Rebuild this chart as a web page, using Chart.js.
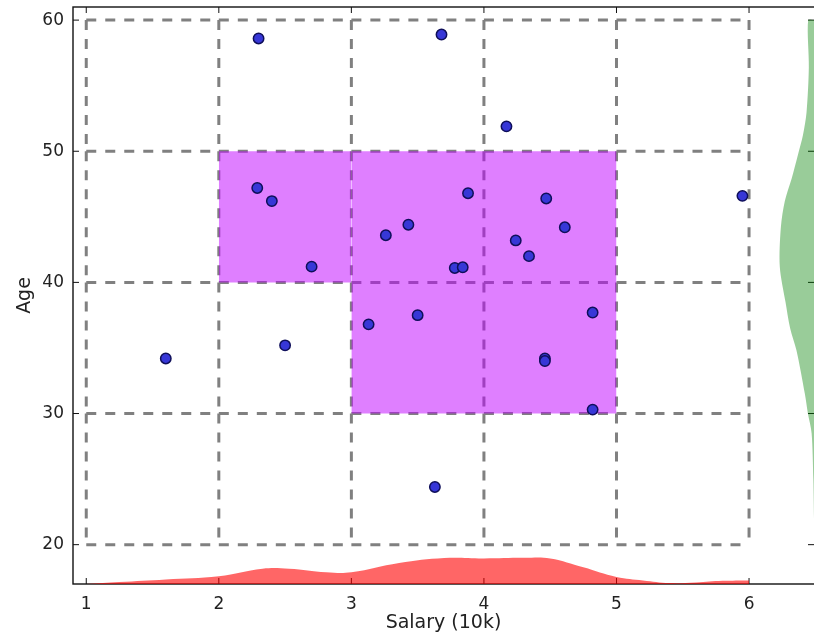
<!DOCTYPE html>
<html lang="en">
<head>
  <meta charset="UTF-8">
  <title>Salary vs Age</title>
  <script src="https://cdn.jsdelivr.net/npm/chart.js@4.4.1/dist/chart.umd.min.js"></script>
  <style>
    body { margin: 0; background: #fff; }
  </style>
</head>
<body>
  <canvas id="myChart" width="814" height="638"></canvas>
  <script>
    // people: salary (10k) and age
    var salary = [2.30, 3.68, 4.17, 2.29, 2.40, 2.70, 3.26, 3.43, 3.88, 3.78, 3.84, 4.47, 4.61,
                  4.24, 4.34, 3.13, 3.50, 4.82, 4.46, 4.46, 4.82, 1.60, 2.50, 3.63, 5.95];
    var age = [58.6, 58.9, 51.9, 47.2, 46.2, 41.2, 43.6, 44.4, 46.8, 41.1, 41.15, 46.4, 44.2,
               43.2, 42.0, 36.8, 37.5, 37.7, 34.2, 34.0, 30.3, 34.2, 35.2, 24.4, 46.6];

    var xTicks = [1, 2, 3, 4, 5, 6];
    var yTicks = [20, 30, 40, 50, 60];

    // highlighted cells: [x0, x1, y0, y1]
    var boxes = [[2, 3, 40, 50], [3, 5, 30, 50]];

    // salary density along the bottom
    var redX = [1.0, 1.25, 1.6, 2.0, 2.33, 2.53, 2.81, 3.0, 3.36, 3.7, 4.0, 4.3, 4.5, 4.75, 5.0, 5.2, 5.4, 5.6, 5.8, 6.0];
    var redY = [17.0, 17.15, 17.35, 17.6, 18.17, 18.17, 17.9, 17.9, 18.6, 18.98, 18.95, 19.0, 18.95, 18.27, 17.53, 17.27, 17.07, 17.12, 17.24, 17.27];

    // age density along the right side
    var greenAge = [60, 56.4, 53.0, 51.2, 49.7, 47.9, 46.2, 44.2, 41.2, 38.5, 36.5, 34.8, 31.5, 30, 28.5, 25, 22, 21];
    var greenX = [6.446, 6.451, 6.434, 6.406, 6.368, 6.321, 6.270, 6.240, 6.232, 6.275, 6.31, 6.358, 6.421, 6.444, 6.472, 6.485, 6.49, 6.49];

    var xMin = 0.9, xMax = 6.49, yMin = 17, yMax = 61;
    var font = 'DejaVu Sans';

    var datasets = [];

    // dashed grid, each cell edge its own piece
    function dashed(pts) {
      return { type: 'line', data: pts, showLine: true, spanGaps: false, fill: false,
               borderColor: '#808080', borderWidth: 3, borderDash: [10, 9],
               pointRadius: 0, order: 10 };
    }
    yTicks.forEach(function (y) {
      var pts = [];
      for (var i = 0; i < xTicks.length - 1; i++) {
        pts.push({ x: xTicks[i], y: y }, { x: xTicks[i + 1], y: y }, { x: xTicks[i + 1], y: null });
      }
      datasets.push(dashed(pts));
    });
    xTicks.forEach(function (x) {
      var pts = [];
      for (var j = yTicks.length - 1; j > 0; j--) {
        pts.push({ x: x, y: yTicks[j] }, { x: x, y: yTicks[j - 1] }, { x: x, y: null });
      }
      datasets.push(dashed(pts));
    });

    boxes.forEach(function (b) {
      datasets.push({ type: 'line', data: [{ x: b[0], y: b[3] }, { x: b[1], y: b[3] }],
                      fill: { value: b[2] }, backgroundColor: 'rgba(191,0,255,0.5)',
                      borderWidth: 0, pointRadius: 0, order: 9 });
    });

    datasets.push({
      type: 'line',
      data: redX.map(function (x, i) { return { x: x, y: redY[i] }; }),
      fill: 'start', backgroundColor: 'rgba(255,0,0,0.6)', borderWidth: 0,
      pointRadius: 0, tension: 0.4, order: 8
    });

    var greenPts = [{ x: xMax, y: greenAge[0] }];
    greenAge.forEach(function (a, i) { greenPts.push({ x: greenX[i], y: a }); });
    greenPts.push({ x: xMax, y: greenAge[greenAge.length - 1] });
    datasets.push({
      type: 'line', data: greenPts, fill: 'shape',
      backgroundColor: 'rgba(0,128,0,0.4)', borderWidth: 0,
      pointRadius: 0, tension: 0.3, order: 8
    });

    datasets.push({
      type: 'scatter',
      data: salary.map(function (s, i) { return { x: s, y: age[i] }; }),
      backgroundColor: 'rgb(55,55,215)', borderColor: 'rgb(15,15,90)',
      borderWidth: 1.5, pointRadius: 5.2, order: 0
    });

    // box around the plot, ticks pointing inwards
    var frame = {
      id: 'frame',
      beforeDatasetsDraw: function (chart) {
        var ctx = chart.ctx, a = chart.chartArea, sx = chart.scales.x, sy = chart.scales.y;
        ctx.save();
        ctx.strokeStyle = '#111';
        ctx.lineWidth = 1.4;
        ctx.strokeRect(a.left, a.top, a.right - a.left + 2, a.bottom - a.top);
        ctx.lineWidth = 1;
        ctx.beginPath();
        xTicks.forEach(function (v) {
          var px = sx.getPixelForValue(v);
          ctx.moveTo(px, a.bottom); ctx.lineTo(px, a.bottom - 6);
          ctx.moveTo(px, a.top); ctx.lineTo(px, a.top + 6);
        });
        yTicks.forEach(function (v) {
          var py = sy.getPixelForValue(v);
          ctx.moveTo(a.left, py); ctx.lineTo(a.left + 6, py);
          ctx.moveTo(a.right, py); ctx.lineTo(a.right - 6, py);
        });
        ctx.stroke();
        ctx.restore();
      }
    };

    function noPad(s) {
      s.paddingTop = 0; s.paddingBottom = 0; s.paddingLeft = 0; s.paddingRight = 0;
    }

    var ctx = document.getElementById('myChart').getContext('2d');
    var chart = new Chart(ctx, {
      type: 'scatter',
      data: { datasets: datasets },
      plugins: [frame],
      options: {
        responsive: false,
        animation: false,
        layout: { autoPadding: false, padding: { top: 7, right: 0, bottom: 0, left: 0 } },
        plugins: { legend: { display: false }, tooltip: { enabled: false } },
        scales: {
          x: {
            type: 'linear', min: xMin, max: xMax,
            grid: { display: false, drawTicks: false },
            border: { display: false },
            afterBuildTicks: function (s) { s.ticks = xTicks.map(function (v) { return { value: v }; }); },
            afterFit: function (s) { s.height = 54; noPad(s); },
            ticks: { color: '#222', font: { family: font, size: 17 }, padding: 10, maxRotation: 0, autoSkip: false },
            title: { display: true, text: 'Salary (10k)', color: '#222',
                     font: { family: font, size: 19 }, padding: { top: 0, bottom: 4 } }
          },
          y: {
            type: 'linear', min: yMin, max: yMax,
            grid: { display: false, drawTicks: false },
            border: { display: false },
            afterBuildTicks: function (s) { s.ticks = yTicks.map(function (v) { return { value: v }; }); },
            afterFit: function (s) { s.width = 73; noPad(s); },
            ticks: { color: '#222', font: { family: font, size: 17 }, padding: 9 },
            title: { display: true, text: 'Age', color: '#222',
                     font: { family: font, size: 19 }, padding: { top: 14, bottom: 0 } }
          }
        }
      }
    });
  </script>
</body>
</html>
